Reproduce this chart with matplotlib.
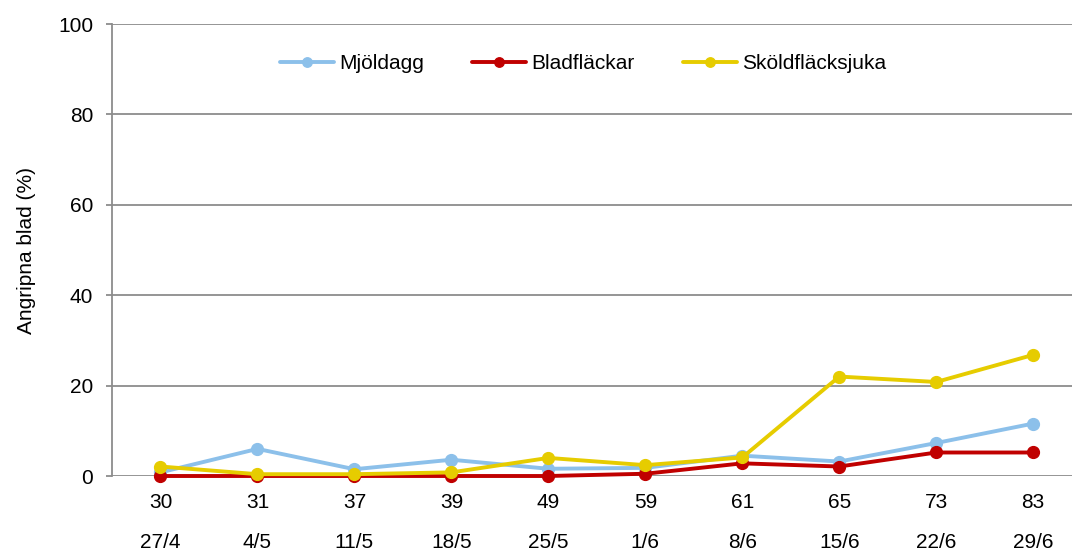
import numpy as np
import matplotlib.pyplot as plt

plt.rcParams['font.family'] = ['Liberation Sans', 'DejaVu Sans']

# growth stage (DC) and observation date
stages = ['30', '31', '37', '39', '49', '59', '61', '65', '73', '83']
dates = ['27/4', '4/5', '11/5', '18/5', '25/5', '1/6', '8/6', '15/6', '22/6', '29/6']

# share of infected leaves (%)
mjoldagg = [0.8, 6.0, 1.5, 3.6, 1.6, 1.8, 4.5, 3.2, 7.3, 11.6]
bladflackar = [0.0, 0.0, 0.0, 0.0, 0.0, 0.5, 2.8, 2.1, 5.2, 5.2]
skoldflacksjuka = [2.1, 0.4, 0.4, 0.8, 4.0, 2.4, 4.1, 22.0, 20.8, 26.8]

colors = {'Mjöldagg': '#8cc0ea', 'Bladfläckar': '#c00000', 'Sköldfläcksjuka': '#e6cc00'}
fs = 15

fig = plt.figure(figsize=(10.72, 5.51), dpi=100)
ax = fig.add_axes([112 / 1072, 75 / 551, 1 - 112 / 1072, 452 / 551])

x = np.arange(len(stages))
for name, vals in [('Mjöldagg', mjoldagg), ('Bladfläckar', bladflackar),
                   ('Sköldfläcksjuka', skoldflacksjuka)]:
    ax.plot(x, vals, color=colors[name], lw=2.8, marker='o', ms=8.5,
            label=name, solid_capstyle='round', clip_on=False)

ax.set_xlim(-0.5, 9.4)
ax.set_ylim(0, 100)
ax.set_yticks(range(0, 101, 20))
ax.yaxis.grid(True, color='#8c8c8c', lw=1.3)
ax.set_axisbelow(True)

# two rows under the axis: stage, then date
ax.set_xticks(x)
ax.set_xticklabels(stages)
ax.tick_params(axis='x', length=0, pad=12.5, labelsize=fs)
for xi, d in zip(x, dates):
    ax.text(xi, -(548 - 476) / 452, d, transform=ax.get_xaxis_transform(),
            ha='center', va='baseline', fontsize=fs)

ax.tick_params(axis='y', length=4.5, width=1.3, color='#8c8c8c', pad=9, labelsize=fs)

for side in ['top', 'right', 'bottom']:
    ax.spines[side].set_visible(False)
ax.spines['left'].set_color('#8c8c8c')
ax.spines['left'].set_linewidth(1.3)

ax.set_ylabel('Angripna blad (%)', fontsize=fs, labelpad=16)

leg = ax.legend(loc='upper center', bbox_to_anchor=(0.4906, 0.975), ncol=3, frameon=False,
                fontsize=fs, markerscale=0.8, handlelength=2.6, columnspacing=2.3,
                handletextpad=0.25)

fig.savefig('out.png', dpi=100)
